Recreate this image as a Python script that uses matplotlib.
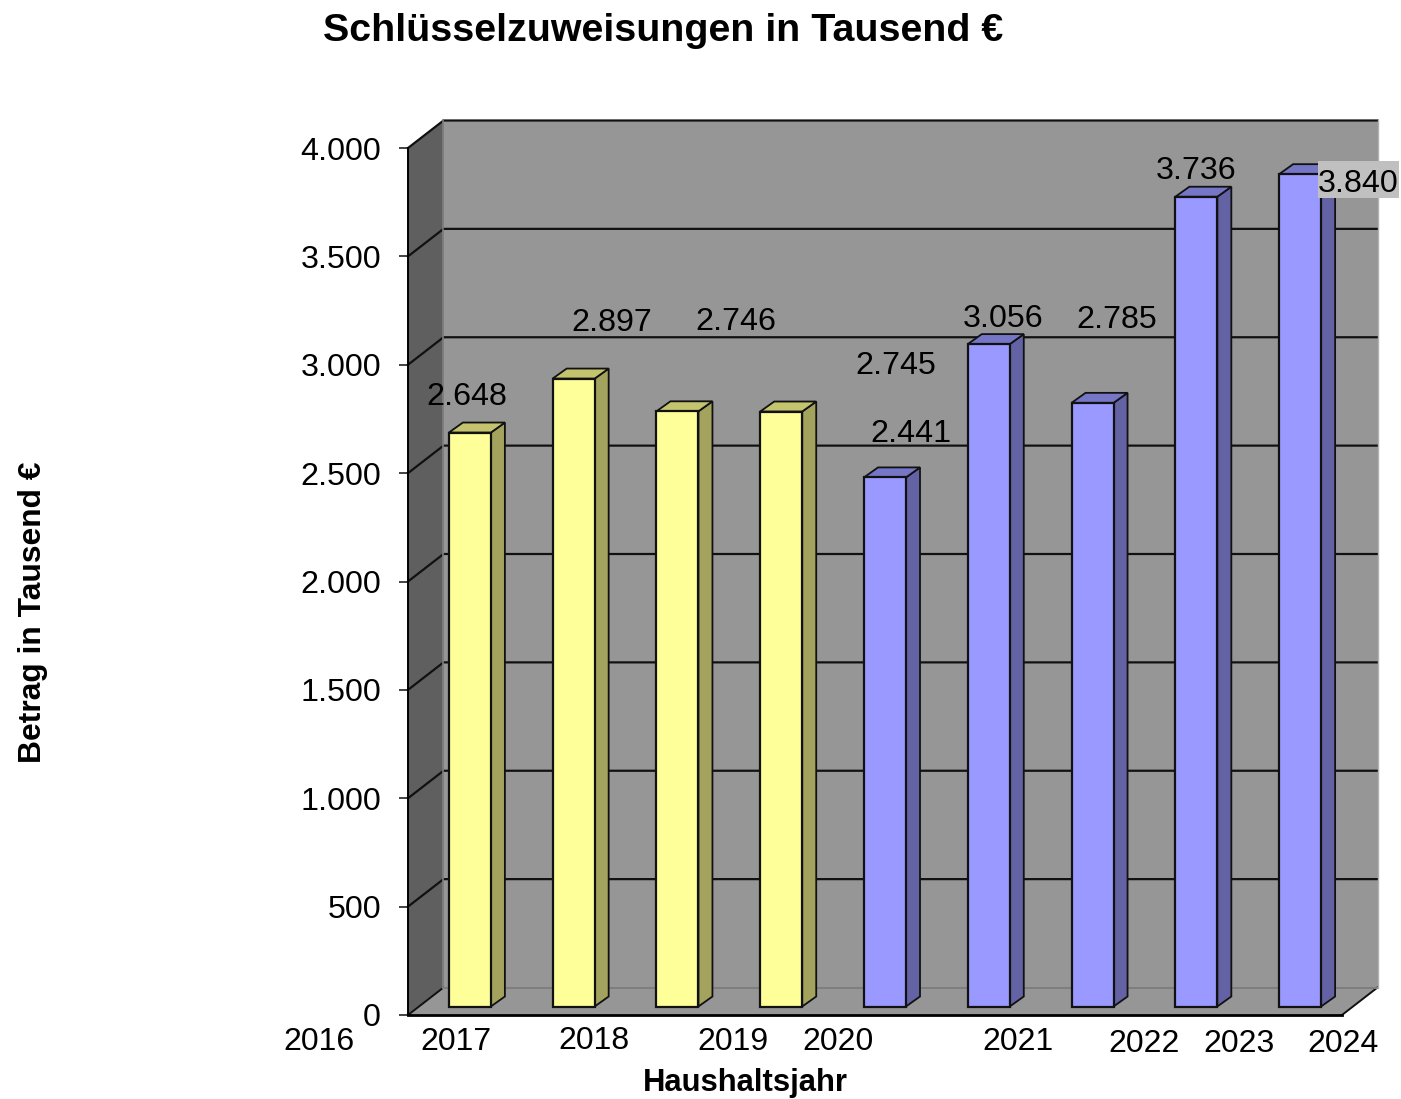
import matplotlib
matplotlib.use("Agg")
import matplotlib.pyplot as plt
from matplotlib.patches import Polygon, Rectangle
from matplotlib.ticker import FuncFormatter

plt.rcParams['font.family'] = ['Liberation Sans', 'DejaVu Sans']

values = [2648, 2897, 2746, 2745, 2441, 3056, 2785, 3736, 3840]
tick_years = ["2016", "2017", "2018", "2019", "2020", "2021", "2022", "2023", "2024"]
yticks = [0, 500, 1000, 1500, 2000, 2500, 3000, 3500, 4000]

# the chart has two colour groups: first 4 bars yellow, rest blue
yellow = ("#FFFF99", "#C4C46E", "#A3A35E")
blue = ("#9999FF", "#7676C6", "#6262A4")
bar_colors = [yellow] * 4 + [blue] * 5

W, H = 1401, 1099
fig = plt.figure(figsize=(W / 100, H / 100), dpi=100)
ax = fig.add_axes([408 / W, (H - 1015) / H, 934 / W, 867 / H])
ax.set_xlim(-0.5, 8.5)
ax.set_ylim(0, 4000)

# pixel -> data scale, for the fake 3d depth
px_x = 9 / 934
px_y = 4000 / 867
dx = 35.5 * px_x
dy = 27.5 * px_y
x0, x1 = -0.5, 8.5

# walls
ax.add_patch(Polygon([(x0 + dx, dy), (x1 + dx, dy), (x1 + dx, 4000 + dy), (x0 + dx, 4000 + dy)],
                     fc="#969696", ec="none", clip_on=False, zorder=1))
ax.add_patch(Polygon([(x0, 0), (x0 + dx, dy), (x0 + dx, 4000 + dy), (x0, 4000)],
                     fc="#5F5F5F", ec="none", clip_on=False, zorder=1))
ax.add_patch(Polygon([(x0, 0), (x1, 0), (x1 + dx, dy), (x0 + dx, dy)],
                     fc="#969696", ec="none", clip_on=False, zorder=1))

# grid lines, on side wall and back wall
for t in yticks[1:]:
    ax.plot([x0, x0 + dx, x1 + dx], [t, t + dy, t + dy], color="#111111", lw=1.6,
            clip_on=False, zorder=2, solid_joinstyle="miter")
ax.plot([x0, x0 + dx], [0, dy], color="#111111", lw=1.4, clip_on=False, zorder=2)
ax.plot([x1, x1 + dx], [0, dy], color="#111111", lw=1.4, clip_on=False, zorder=2)
ax.plot([x0 + dx, x1 + dx], [dy, dy], color="#7E7E7E", lw=1.4, clip_on=False, zorder=2)
ax.plot([x0 + dx, x0 + dx], [dy, 4000 + dy], color="#808080", lw=1.2, clip_on=False, zorder=2)
ax.plot([x1 + dx, x1 + dx], [dy, 4000 + dy], color="#B0B0B0", lw=1.0, clip_on=False, zorder=2)

# bars
bw = 42 * px_x
ox = 10 * px_x
oy = 8.5 * px_y
ddx = 14 * px_x
ddy = 10 * px_y
for i, v in enumerate(values):
    c = bar_colors[i]
    left = i + ox - bw / 2
    right = i + ox + bw / 2
    top = oy + v
    ax.bar(i + ox, v, bottom=oy, width=bw, color=c[0], edgecolor="#111111", linewidth=1.6, zorder=4)
    ax.add_patch(Polygon([(right, oy), (right + ddx, oy + ddy), (right + ddx, top + ddy), (right, top)],
                         fc=c[2], ec="#111111", lw=1.3, zorder=3))
    ax.add_patch(Polygon([(left, top), (left + ddx, top + ddy), (right + ddx, top + ddy), (right, top)],
                         fc=c[1], ec="#111111", lw=1.3, zorder=3))

# grey box behind the last label
ax.add_patch(Rectangle((1318 / W, 1 - 198 / H), 81 / W, 37 / H, transform=fig.transFigure,
                       fc="#C0C0C0", ec="none", clip_on=False, zorder=5))

# labels were hand placed in the original
label_off = [(-3, 36), (38, 56), (58, 89), (115, 46), (26, 43), (14, 25), (24, 83), (0, 26), (58, -10)]
for i, v in enumerate(values):
    txt = f"{v / 1000:.3f}"
    ax.annotate(txt, (i + ox, oy + v), xytext=label_off[i], textcoords="offset pixels",
                ha="center", va="center", fontsize=23.2, color="black",
                annotation_clip=False, zorder=6)

ax.set_yticks(yticks)
ax.yaxis.set_major_formatter(FuncFormatter(lambda v, p: f"{int(v):,}".replace(",", ".")))
ax.tick_params(axis="y", length=6.5, width=1.2, labelsize=23.2, pad=13, color="#222222")
ax.set_xticks([])
for s in ["top", "right"]:
    ax.spines[s].set_visible(False)
ax.spines["left"].set_linewidth(1.4)
ax.spines["bottom"].set_linewidth(2)
ax.spines["bottom"].set_zorder(5)
ax.patch.set_visible(False)

# x labels do not sit under the bars either
xlabel_px = [319, 456, 594, 733, 838, 1018, 1144, 1239, 1343]
xlabel_py = [1042, 1042, 1041, 1042, 1042, 1042, 1044, 1044, 1044]
for lab, px, py in zip(tick_years, xlabel_px, xlabel_py):
    fig.text(px / W, 1 - py / H, lab, ha="center", va="center", fontsize=23, color="black")

fig.text(663 / W, 1 - 31 / H, "Schlüsselzuweisungen in Tausend €", ha="center", va="center",
         fontsize=28.35, fontweight="bold")
fig.text(745 / W, 1 - 1083 / H, "Haushaltsjahr", ha="center", va="center", fontsize=22.3, fontweight="bold")
fig.text(33 / W, 1 - 612 / H, "Betrag in Tausend €", ha="center", va="center", rotation=90,
         fontsize=22.9, fontweight="bold")

fig.savefig("out.png", dpi=100)
